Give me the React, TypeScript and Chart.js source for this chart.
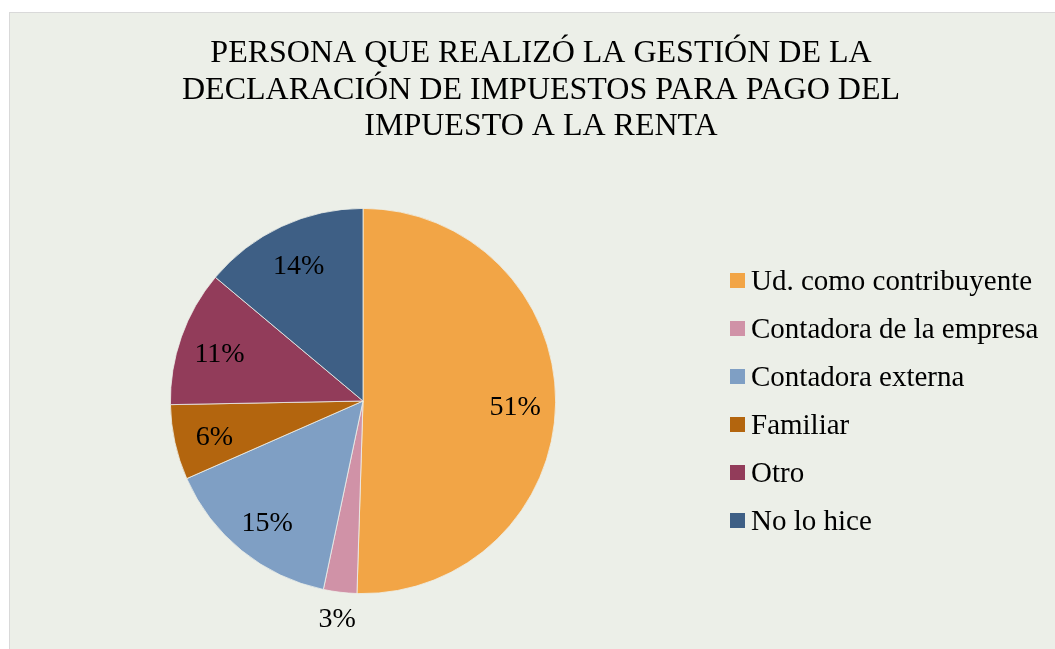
import React, { useEffect, useRef } from "react";
import { Chart, registerables } from "chart.js";

Chart.register(...registerables);

const titleLines = [
  "PERSONA QUE REALIZÓ LA GESTIÓN DE LA",
  "DECLARACIÓN DE IMPUESTOS PARA PAGO DEL",
  "IMPUESTO A LA RENTA",
];
const categories = [
  "Ud. como contribuyente",
  "Contadora de la empresa",
  "Contadora externa",
  "Familiar",
  "Otro",
  "No lo hice",
];
// shares (labels show them rounded)
const shares = [50.5, 2.8, 15.1, 6.3, 11.4, 13.9];
const sliceColors = ["#F2A546", "#D092A7", "#7F9FC4", "#B3650E", "#923C5A", "#3E5F85"];

const SERIF = '"Liberation Serif", "Times New Roman", serif';
const BG = "#ECEFE8";

const overlayPlugin = {
  id: "overlay",
  afterDatasetsDraw(chart: any) {
    const ctx = chart.ctx as CanvasRenderingContext2D;
    const meta = chart.getDatasetMeta(0);
    const data = chart.data.datasets[0].data as number[];
    ctx.save();
    ctx.fillStyle = "#000000";
    // data labels
    ctx.font = `28px ${SERIF}`;
    ctx.textAlign = "center";
    ctx.textBaseline = "middle";
    meta.data.forEach((arc: any, i: number) => {
      const p = arc.getProps(["x", "y", "startAngle", "endAngle", "outerRadius"], true);
      const mid = (p.startAngle + p.endAngle) / 2;
      const small = data[i] < 5;
      const r = small ? p.outerRadius + 24 : p.outerRadius * 0.79;
      const lx = p.x + Math.cos(mid) * r;
      const ly = p.y + Math.sin(mid) * r + 4;
      ctx.fillText(`${Math.round(data[i])}%`, lx, ly);
    });
    // title
    ctx.font = `32px ${SERIF}`;
    ctx.textBaseline = "alphabetic";
    const titleX = 531;
    titleLines.forEach((line, i) => {
      ctx.fillText(line, titleX, 49 + i * 36.5);
    });
    // legend
    ctx.font = `29px ${SERIF}`;
    ctx.textAlign = "left";
    const colors = chart.data.datasets[0].backgroundColor as string[];
    (chart.data.labels as string[]).forEach((label, i) => {
      const cy = 267.5 + i * 48;
      ctx.fillStyle = colors[i];
      ctx.fillRect(720, cy - 7.5, 15, 15);
      ctx.fillStyle = "#000000";
      ctx.fillText(label, 741, cy + 9.5);
    });
    ctx.restore();
  },
};

export default function App() {
  const canvasRef = useRef<HTMLCanvasElement | null>(null);

  useEffect(() => {
    if (!canvasRef.current) return;
    const chart = new Chart(canvasRef.current, {
      type: "pie",
      data: {
        labels: categories,
        datasets: [
          {
            data: shares,
            backgroundColor: sliceColors,
            borderColor: "#EEF0EA",
            borderWidth: 0.8,
          },
        ],
      },
      options: {
        animation: false,
        responsive: false,
        maintainAspectRatio: false,
        layout: { padding: { top: 195, bottom: 55, left: 160, right: 499 } },
        plugins: {
          legend: { display: false },
          title: { display: false },
          tooltip: { enabled: false },
        },
      },
      plugins: [overlayPlugin],
    });
    return () => chart.destroy();
  }, []);

  return (
    <div
      style={{
        position: "absolute",
        left: 9,
        top: 12,
        width: 1046,
        height: 637,
        background: BG,
        borderLeft: "1px solid #D9D9D9",
        borderTop: "1px solid #D9D9D9",
        boxSizing: "border-box",
        overflow: "hidden",
      }}
    >
      <canvas ref={canvasRef} width={1045} height={636} style={{ display: "block" }} />
    </div>
  );
}
